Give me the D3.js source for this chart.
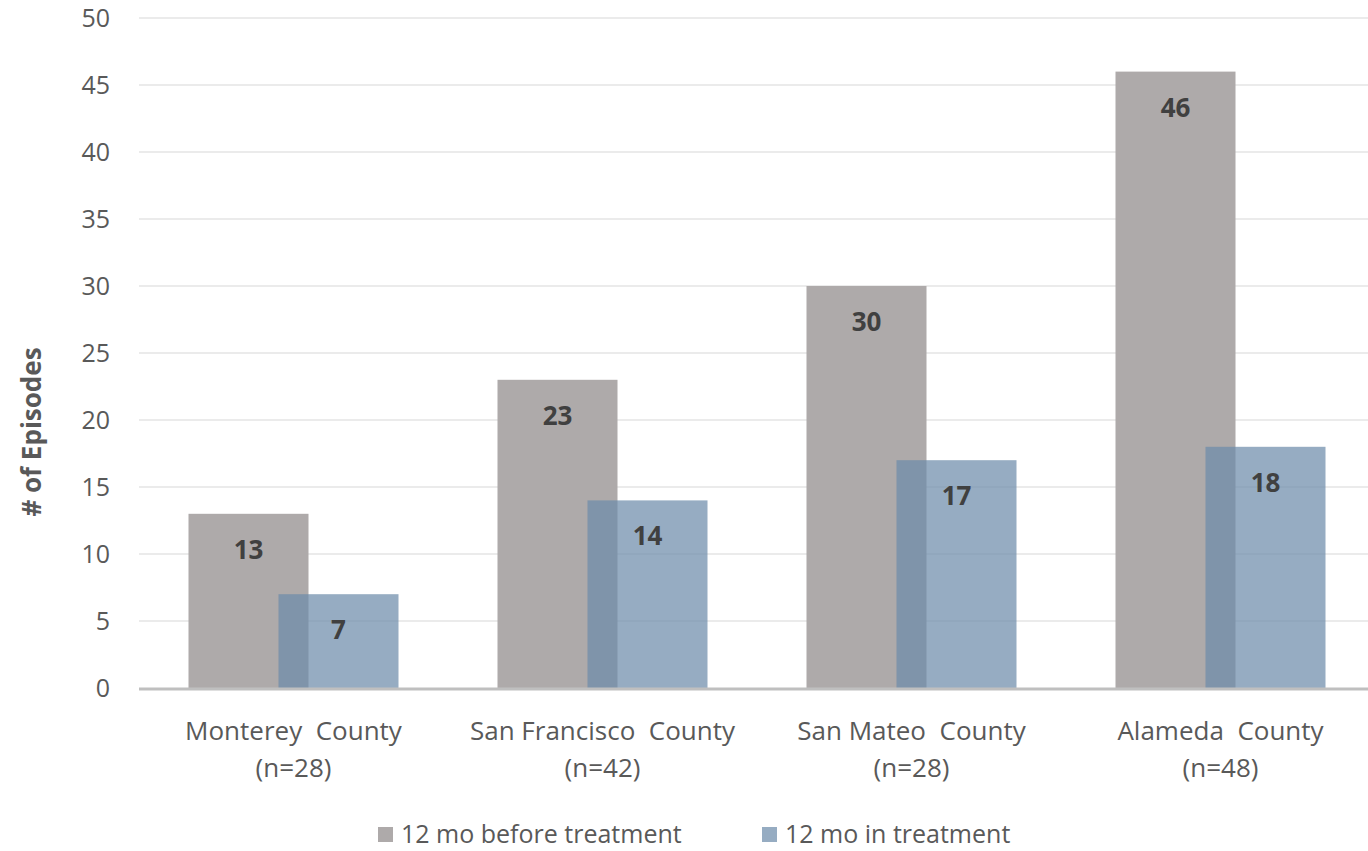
<!DOCTYPE html>
<html><head><meta charset="utf-8">
<script src="https://cdn.jsdelivr.net/npm/d3@7"></script>
<style>body{margin:0;background:#fff;}svg{display:block;font-family:"Open Sans",sans-serif;}</style>
</head><body>
<script>
const categories = ["Monterey  County|(n=28)", "San Francisco  County|(n=42)", "San Mateo  County|(n=28)", "Alameda  County|(n=48)"];
const seriesNames = ["12 mo before treatment", "12 mo in treatment"];
const beforeValues = [13, 23, 30, 46];
const inValues = [7, 14, 17, 18];
const yTicks = [0, 5, 10, 15, 20, 25, 30, 35, 40, 45, 50];

const W = 1368, H = 851;
const svg = d3.select("body").append("svg").attr("width", W).attr("height", H);
const x = d3.scaleBand().domain(categories).range([139, 1375]).padding(0);
const y = d3.scaleLinear().domain([0, 50]).range([688, 18]);

// gridlines
svg.append("g").selectAll("line").data(yTicks.filter(d => d > 0)).join("line")
  .attr("x1", 139).attr("x2", W).attr("y1", d => y(d)).attr("y2", d => y(d))
  .attr("stroke", "#ebebeb").attr("stroke-width", 2);

// y tick labels
svg.append("g").selectAll("text").data(yTicks).join("text")
  .attr("x", 110).attr("y", d => y(d)).attr("dy", "0.36em").attr("text-anchor", "end")
  .attr("fill", "#595959").style("font-size", "25px").text(d => d);

const barW = 120, offset = 45;
const colors = ["#aeaaaa", "#6e8cab"];
svg.append("g").selectAll("rect").data(beforeValues).join("rect")
  .attr("x", (d, i) => x(categories[i]) + x.bandwidth() / 2 - offset - barW / 2)
  .attr("y", d => y(d)).attr("width", barW).attr("height", d => y(0) - y(d))
  .attr("fill", colors[0]);
svg.append("g").selectAll("rect").data(inValues).join("rect")
  .attr("x", (d, i) => x(categories[i]) + x.bandwidth() / 2 + offset - barW / 2)
  .attr("y", d => y(d)).attr("width", barW).attr("height", d => y(0) - y(d))
  .attr("fill", colors[1]).attr("fill-opacity", 0.72);

// baseline
svg.append("line").attr("x1", 139).attr("x2", W).attr("y1", y(0) + 1).attr("y2", y(0) + 1)
  .attr("stroke", "#bfbfbf").attr("stroke-width", 3);

// data labels
const lbl = svg.append("g").attr("fill", "#404040").style("font-size", "26px").style("font-weight", "bold").attr("text-anchor", "middle");
lbl.selectAll("text.b").data(beforeValues).join("text").attr("class", "b")
  .attr("x", (d, i) => x(categories[i]) + x.bandwidth() / 2 - offset)
  .attr("y", d => y(d) + 45).text(d => d);
lbl.selectAll("text.i").data(inValues).join("text").attr("class", "i")
  .attr("x", (d, i) => x(categories[i]) + x.bandwidth() / 2 + offset)
  .attr("y", d => y(d) + 45).text(d => d);

// category labels
const cl = svg.append("g").attr("fill", "#595959").style("font-size", "26px").attr("text-anchor", "middle");
categories.forEach(c => {
  const parts = c.split("|");
  const t = cl.append("text").attr("x", x(c) + x.bandwidth() / 2).attr("y", 740).attr("xml:space", "preserve");
  t.append("tspan").attr("x", x(c) + x.bandwidth() / 2).text(parts[0]);
  t.append("tspan").attr("x", x(c) + x.bandwidth() / 2).attr("dy", 37).text(parts[1]);
});

// y axis title
svg.append("text").attr("transform", "translate(41,432) rotate(-90)").attr("text-anchor", "middle")
  .attr("fill", "#595959").style("font-size", "26px").style("font-weight", "bold").text("# of Episodes");

// legend
const legX = [378, 762];
const lg = svg.append("g");
seriesNames.forEach((s, i) => {
  lg.append("rect").attr("x", legX[i]).attr("y", 827).attr("width", 15).attr("height", 15)
    .attr("fill", colors[i]).attr("fill-opacity", i ? 0.72 : 1);
  lg.append("text").attr("x", legX[i] + 23).attr("y", 843).attr("fill", "#595959")
    .style("font-size", "25px").text(s);
});
</script>
</body></html>
